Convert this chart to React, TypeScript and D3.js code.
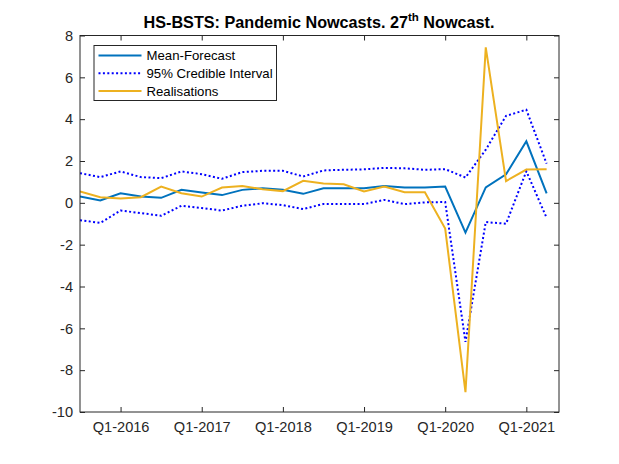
import { useEffect, useRef } from 'react';
import * as d3 from 'd3';

// quarters Q3-2015 .. Q2-2021
const quarters = [
  'Q3-2015', 'Q4-2015', 'Q1-2016', 'Q2-2016', 'Q3-2016', 'Q4-2016',
  'Q1-2017', 'Q2-2017', 'Q3-2017', 'Q4-2017', 'Q1-2018', 'Q2-2018',
  'Q3-2018', 'Q4-2018', 'Q1-2019', 'Q2-2019', 'Q3-2019', 'Q4-2019',
  'Q1-2020', 'Q2-2020', 'Q3-2020', 'Q4-2020', 'Q1-2021', 'Q2-2021',
];

const meanForecast = [
  0.30, 0.11, 0.46, 0.30, 0.24, 0.62, 0.49, 0.37, 0.62, 0.70, 0.62, 0.43,
  0.70, 0.70, 0.70, 0.81, 0.73, 0.73, 0.78, -1.42, 0.74, 1.36, 2.94, 0.45,
];
const upperBand = [
  1.42, 1.23, 1.50, 1.23, 1.18, 1.50, 1.37, 1.15, 1.47, 1.53, 1.53, 1.26,
  1.55, 1.58, 1.60, 1.67, 1.65, 1.58, 1.61, 1.21, 2.54, 4.16, 4.45, 1.87,
];
const lowerBand = [
  -0.83, -0.96, -0.37, -0.49, -0.62, -0.14, -0.25, -0.37, -0.14, -0.02, -0.11, -0.30,
  -0.05, -0.06, -0.06, 0.14, -0.06, 0.02, 0.04, -6.65, -0.92, -1.0, 1.51, -0.72,
];
const realisations = [
  0.54, 0.27, 0.21, 0.27, 0.78, 0.46, 0.30, 0.73, 0.81, 0.65, 0.56, 1.05,
  0.92, 0.89, 0.54, 0.78, 0.51, 0.51, -1.23, -9.05, 7.43, 1.04, 1.59, 1.61,
];

const xTickLabels = ['Q1-2016', 'Q1-2017', 'Q1-2018', 'Q1-2019', 'Q1-2020', 'Q1-2021'];
const yTicks = [-10, -8, -6, -4, -2, 0, 2, 4, 6, 8];

const FONT = 'Liberation Sans, Arial, Helvetica, sans-serif';

export default function App() {
  const svgRef = useRef<SVGSVGElement>(null);

  useEffect(() => {
    if (!svgRef.current) return;
    const svg = d3.select(svgRef.current);
    svg.selectAll('*').remove();

    const left = 80;
    const right = 559;
    const top = 35.5;
    const bottom = 412;

    const x = d3.scaleLinear().domain([0, 23.61]).range([left, right]);
    const y = d3.scaleLinear().domain([-10, 8]).range([bottom, top]);

    svg.append('rect').attr('width', 619).attr('height', 464).attr('fill', '#fff');

    // Title (with superscript)
    const title = svg
      .append('text')
      .attr('x', 319)
      .attr('y', 27.5)
      .attr('text-anchor', 'middle')
      .attr('font-family', FONT)
      .attr('font-weight', 'bold')
      .attr('font-size', 16.2)
      .attr('fill', '#000');
    title.append('tspan').text('HS-BSTS: Pandemic Nowcasts. 27');
    title.append('tspan').attr('dy', -7).attr('font-size', 11.5).text('th');
    title.append('tspan').attr('dy', 7).text(' Nowcast.');

    const plot = svg.append('g');
    plot
      .append('defs')
      .append('clipPath')
      .attr('id', 'plot-clip')
      .append('rect')
      .attr('x', left)
      .attr('y', top)
      .attr('width', right - left)
      .attr('height', bottom - top);

    const idx = quarters.map((_, i) => i);
    const line = (vals: number[]) =>
      d3
        .line<number>()
        .x((i) => x(i))
        .y((i) => y(vals[i]))(idx);

    const lines = plot.append('g').attr('clip-path', 'url(#plot-clip)');

    lines
      .append('path')
      .attr('d', line(meanForecast))
      .attr('fill', 'none')
      .attr('stroke', '#0072BD')
      .attr('stroke-width', 2);

    [upperBand, lowerBand].forEach((band) => {
      lines
        .append('path')
        .attr('d', line(band))
        .attr('fill', 'none')
        .attr('stroke', '#0000FF')
        .attr('stroke-width', 2)
        .attr('stroke-dasharray', '2,2.4');
    });

    lines
      .append('path')
      .attr('d', line(realisations))
      .attr('fill', 'none')
      .attr('stroke', '#EDB120')
      .attr('stroke-width', 2);

    // Axes box and ticks (ticks point inward on all four sides)
    const axisColor = '#262626';
    const xTickIdx = xTickLabels.map((l) => quarters.indexOf(l));

    plot
      .append('g')
      .attr('transform', `translate(0,${bottom})`)
      .call(d3.axisBottom(x).tickValues(xTickIdx).tickSize(-5).tickPadding(10).tickFormat((d) => quarters[d as number]))
      .call((g) => g.select('.domain').remove());
    plot
      .append('g')
      .attr('transform', `translate(0,${top})`)
      .call(d3.axisTop(x).tickValues(xTickIdx).tickSize(-5).tickFormat(() => ''))
      .call((g) => g.select('.domain').remove());
    plot
      .append('g')
      .attr('transform', `translate(${left},0)`)
      .call(d3.axisLeft(y).tickValues(yTicks).tickSize(-5).tickPadding(7).tickFormat((d) => String(d)))
      .call((g) => g.select('.domain').remove());
    plot
      .append('g')
      .attr('transform', `translate(${right},0)`)
      .call(d3.axisRight(y).tickValues(yTicks).tickSize(-5).tickFormat(() => ''))
      .call((g) => g.select('.domain').remove());

    plot.selectAll('.tick line').attr('stroke', axisColor).attr('stroke-width', 1);
    plot
      .selectAll('.tick text')
      .attr('fill', axisColor)
      .attr('font-family', FONT)
      .attr('font-size', 14.6);

    plot
      .append('rect')
      .attr('x', left)
      .attr('y', top)
      .attr('width', right - left)
      .attr('height', bottom - top)
      .attr('fill', 'none')
      .attr('stroke', axisColor)
      .attr('stroke-width', 1);

    // Legend
    const legend = svg.append('g');
    legend
      .append('rect')
      .attr('x', 94)
      .attr('y', 45.5)
      .attr('width', 182.5)
      .attr('height', 55)
      .attr('fill', '#fff')
      .attr('stroke', axisColor)
      .attr('stroke-width', 1);

    const items = [
      { label: 'Mean-Forecast', color: '#0072BD', dash: null },
      { label: '95% Credible Interval', color: '#0000FF', dash: '2,2.4' },
      { label: 'Realisations', color: '#EDB120', dash: null },
    ];
    items.forEach((item, i) => {
      const cy = 55.5 + i * 17.7;
      const l = legend
        .append('line')
        .attr('x1', 98.5)
        .attr('x2', 141.5)
        .attr('y1', cy)
        .attr('y2', cy)
        .attr('stroke', item.color)
        .attr('stroke-width', 2);
      if (item.dash) l.attr('stroke-dasharray', item.dash);
      legend
        .append('text')
        .attr('x', 146.5)
        .attr('y', cy + 4.7)
        .attr('font-family', FONT)
        .attr('font-size', 13.2)
        .attr('fill', '#000')
        .text(item.label);
    });
  }, []);

  return (
    <div style={{ position: 'absolute', left: 0, top: 0 }}>
      <svg ref={svgRef} width={619} height={464} style={{ display: 'block' }}></svg>
    </div>
  );
}
